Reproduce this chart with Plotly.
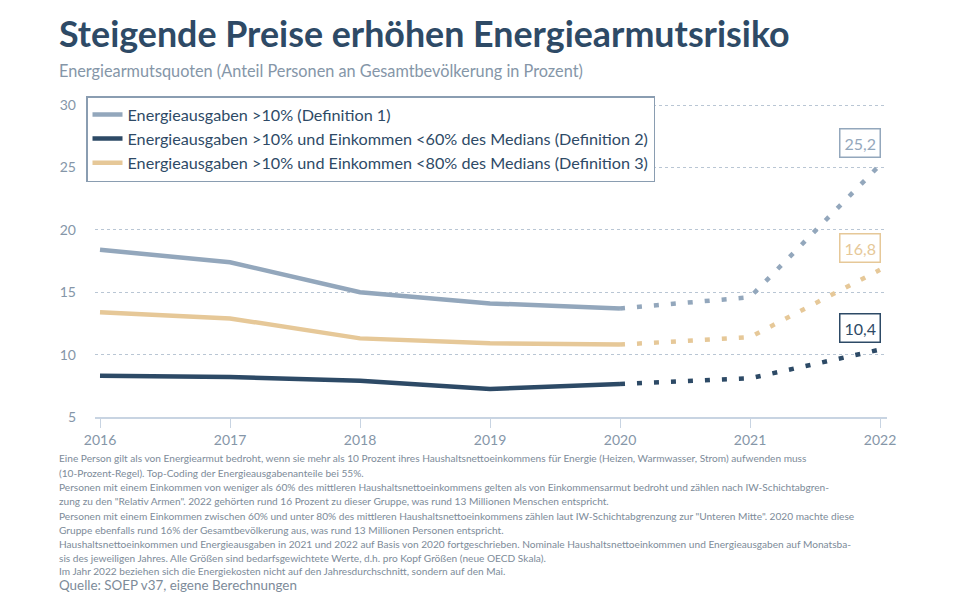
import plotly.graph_objects as go

years = [2016, 2017, 2018, 2019, 2020, 2021, 2022]
def1 = [18.4, 17.4, 15.0, 14.1, 13.7, 14.6, 25.2]
def2 = [8.3, 8.2, 7.9, 7.25, 7.65, 8.1, 10.4]
def3 = [13.4, 12.9, 11.3, 10.9, 10.8, 11.4, 16.8]
names = [
    "Energieausgaben >10% (Definition 1)",
    "Energieausgaben >10% und Einkommen <60% des Medians (Definition 2)",
    "Energieausgaben >10% und Einkommen <80% des Medians (Definition 3)",
]
colors = ["#93a7bc", "#2d4a66", "#e6c898"]
yticks = [5, 10, 15, 20, 25, 30]
title = "Steigende Preise erhöhen Energiearmutsrisiko"
subtitle = "Energiearmutsquoten (Anteil Personen an Gesamtbevölkerung in Prozent)"
notes = [
    "Eine Person gilt als von Energiearmut bedroht, wenn sie mehr als 10 Prozent ihres Haushaltsnettoeinkommens für Energie (Heizen, Warmwasser, Strom) aufwenden muss",
    "(10-Prozent-Regel). Top-Coding der Energieausgabenanteile bei 55%.",
    "Personen mit einem Einkommen von weniger als 60% des mittleren Haushaltsnettoeinkommens gelten als von Einkommensarmut bedroht und zählen nach IW-Schichtabgren-",
    "zung zu den \"Relativ Armen\". 2022 gehörten rund 16 Prozent zu dieser Gruppe, was rund 13 Millionen Menschen entspricht.",
    "Personen mit einem Einkommen zwischen 60% und unter 80% des mittleren Haushaltsnettoeinkommens zählen laut IW-Schichtabgrenzung zur \"Unteren Mitte\". 2020 machte diese",
    "Gruppe ebenfalls rund 16% der Gesamtbevölkerung aus, was rund 13 Millionen Personen entspricht.",
    "Haushaltsnettoeinkommen und Energieausgaben in 2021 und 2022 auf Basis von 2020 fortgeschrieben. Nominale Haushaltsnettoeinkommen und Energieausgaben auf Monatsba-",
    "sis des jeweiligen Jahres. Alle Größen sind bedarfsgewichtete Werte, d.h. pro Kopf Größen (neue OECD Skala).",
    "Im Jahr 2022 beziehen sich die Energiekosten nicht auf den Jahresdurchschnitt, sondern auf den Mai.",
]
source = "Quelle: SOEP v37, eigene Berechnungen"

FONT = "Lato"
OFF = 8  # page body margin offset
W, H = 960, 600
L, R, T, B = 95 - OFF, 73 + OFF, 100 - OFF, 183 + OFF
PW, PH = W - L - R, H - T - B

def px(x):
    return (x - OFF - L) / PW

def py(y):
    return (H - B - (y - OFF)) / PH

fig = go.Figure()
series = [def1, def2, def3]
split = years.index(2020)
for name, vals, col in zip(names, series, colors):
    fig.add_trace(go.Scatter(
        x=years[:split + 1], y=vals[:split + 1], mode="lines", name=name,
        line=dict(color=col, width=4.5), legendgroup=name))
for name, vals, col in zip(names, series, colors):
    fig.add_trace(go.Scatter(
        x=years[split:], y=vals[split:], mode="lines", name=name, showlegend=False,
        line=dict(color=col, width=4.5, dash="5px,12px"), legendgroup=name))

annotations = []
for vals, col in zip(series, colors):
    annotations.append(dict(
        x=years[-1], y=vals[-1], xref="x", yref="y",
        text=f"{vals[-1]:.1f}".replace(".", ","), showarrow=False,
        xanchor="right", yanchor="bottom", xshift=1, yshift=7,
        font=dict(family=FONT, size=16, color=col),
        bordercolor=col, borderwidth=1.5, borderpad=4, bgcolor="white"))

annotations.append(dict(x=px(57), y=py(33), xref="paper", yref="paper", text=f"<b>{title}</b>",
                        showarrow=False, xanchor="left", yanchor="middle",
                        font=dict(family=FONT, size=35.8, color="#2e4a66")))
annotations.append(dict(x=px(57), y=py(71), xref="paper", yref="paper", text=subtitle,
                        showarrow=False, xanchor="left", yanchor="middle",
                        font=dict(family=FONT, size=16.3, color="#8596a8")))
note_y = [458, 473, 487, 501, 516, 530, 544, 558, 571]
for t, yy in zip(notes, note_y):
    annotations.append(dict(x=px(57), y=py(yy), xref="paper", yref="paper", text=t,
                            showarrow=False, xanchor="left", yanchor="middle",
                            font=dict(family=FONT, size=10.15, color="#7d8b99")))
annotations.append(dict(x=px(57), y=py(585), xref="paper", yref="paper", text=source,
                        showarrow=False, xanchor="left", yanchor="middle",
                        font=dict(family=FONT, size=13.4, color="#7d8b99")))

fig.update_layout(
    width=W, height=H, margin=dict(l=L, r=R, t=T, b=B),
    paper_bgcolor="white", plot_bgcolor="white",
    font=dict(family=FONT, color="#2e4a66"),
    showlegend=True,
    legend=dict(x=px(86), y=py(96), xanchor="left", yanchor="top",
                bgcolor="white", bordercolor="#8a9db1", borderwidth=1.5,
                font=dict(family=FONT, size=16.2, color="#2e4a66"),
                tracegroupgap=0, itemwidth=30),
    annotations=annotations,
    xaxis=dict(range=[2016 - 5 / 130, 2022 + 7 / 130], tickvals=years,
               ticks="outside", ticklen=9, tickcolor="#c8d4e2", tickwidth=1.2,
               showline=True, linecolor="#c8d4e2", linewidth=1.5,
               showgrid=False, zeroline=False,
               tickfont=dict(family=FONT, size=14, color="#8596a8")),
    yaxis=dict(range=[5, 30 + 5 / 12.48], tickvals=yticks,
               showgrid=True, gridcolor="#b9c6d4", griddash="dot", gridwidth=1,
               zeroline=False, showline=False, ticks="", ticklabelstandoff=18,
               tickfont=dict(family=FONT, size=14, color="#8596a8")),
)

fig.write_html("out.html")
